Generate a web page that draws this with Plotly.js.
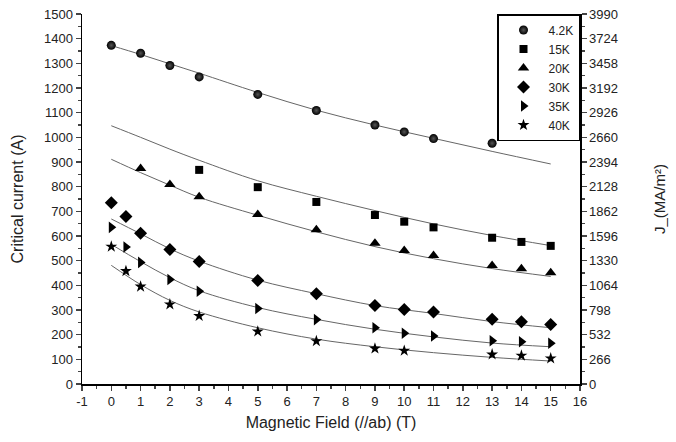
<!DOCTYPE html>
<html>
<head>
<meta charset="utf-8">
<script src="https://cdn.plot.ly/plotly-3.0.1.min.js"></script>
<style>html,body{margin:0;padding:0;background:#fff;}#chart{width:676px;height:442px;}</style>
</head>
<body>
<div id="chart"></div>
<script>
// Measured data (Critical current, A)
const x42 = [0, 1, 2, 3, 5, 7, 9, 10, 11, 13];
const y42 = [1373, 1341, 1291, 1245, 1174, 1109, 1050, 1022, 995, 976];
const x15 = [3, 5, 7, 9, 10, 11, 13, 14, 15];
const y15 = [868, 798, 738, 685, 658, 635, 593, 576, 560];
const x20 = [1, 2, 3, 5, 7, 9, 10, 11, 13, 14, 15];
const y20 = [874, 809, 759, 687, 625, 571, 541, 521, 480, 467, 451];
const x30 = [0, 0.5, 1, 2, 3, 5, 7, 9, 10, 11, 13, 14, 15];
const y30 = [735, 679, 611, 545, 497, 420, 366, 318, 302, 292, 262, 252, 241];
const x35 = [0, 0.5, 1, 2, 3, 5, 7, 9, 10, 11, 13, 14, 15];
const y35 = [635, 555, 493, 424, 376, 306, 261, 228, 206, 195, 175, 171, 165];
const x40 = [0, 0.5, 1, 2, 3, 5, 7, 9, 10, 13, 14, 15];
const y40 = [557, 458, 395, 323, 276, 213, 174, 144, 135, 120, 115, 104];

// Fit curves
const fitX = [0, 1, 2, 3, 5, 7, 9, 11, 13, 15];
const fit42 = [1372, 1336, 1298, 1260, 1182, 1110, 1050, 996, 943, 892];
const fit15 = [1047, 1000, 952, 907, 824, 761, 703, 649, 602, 561];
const fit20 = [911, 857, 806, 757, 684, 617, 557, 508, 468, 436];
const fit30 = [669, 609, 548, 498, 421, 366, 318, 286, 253, 228];
const fit35 = [566, 496, 431, 378, 310, 262, 222, 191, 166, 151];
const fit40 = [481, 403, 339, 292, 228, 182, 151, 127, 108, 93];

const names = ['4.2K', '15K', '20K', '30K', '35K', '40K'];
const xTicks = [-1, 0, 1, 2, 3, 4, 5, 6, 7, 8, 9, 10, 11, 12, 13, 14, 15, 16];
const xTickText = ['-1', '0', '1', '2', '3', '4', '5', '6', '7', '8', '9', '10', '11', '12', '13', '14', '15', '16'];
const rightTicks = [0, 266, 532, 798, 1064, 1330, 1596, 1862, 2128, 2394, 2660, 2926, 3192, 3458, 3724, 3990];

const FONT = 'Liberation Sans, Arial, sans-serif';
const pts = [[x42, y42], [x15, y15], [x20, y20], [x30, y30], [x35, y35], [x40, y40]];
const fits = [fit42, fit15, fit20, fit30, fit35, fit40];
const markers = [
  {symbol: 'circle', size: 9, color: '#000', gradient: {type: 'radial', color: '#555'}, line: {width: 0}},
  {symbol: 'square', size: 8, color: '#000'},
  {symbol: 'triangle-up', size: 10, color: '#000'},
  {symbol: 'diamond', size: 10, color: '#000'},
  {symbol: 'triangle-right', size: 10, color: '#000'},
  {symbol: 'star', size: 9, color: '#000'}
];

const traces = [];
fits.forEach(f => {
  traces.push({x: fitX, y: f, mode: 'lines', line: {color: '#666', width: 1, shape: 'spline'},
    showlegend: false, hoverinfo: 'skip'});
});
pts.forEach((p, i) => {
  traces.push({x: p[0], y: p[1], mode: 'markers', name: names[i], marker: markers[i]});
});
traces.push({x: [-1], y: [0], yaxis: 'y2', mode: 'markers', marker: {opacity: 0}, showlegend: false, hoverinfo: 'skip'});

const tickFont = {family: FONT, size: 13, color: '#222'};
const titleFont = {family: FONT, size: 16, color: '#222'};
const layout = {
  width: 676, height: 442,
  margin: {l: 82, r: 96, t: 14, b: 58},
  paper_bgcolor: '#fff', plot_bgcolor: '#fff',
  font: {family: FONT, size: 13, color: '#222'},
  showlegend: true,
  legend: {x: 1, xanchor: 'right', y: 1, yanchor: 'top', bordercolor: '#000', borderwidth: 1.5,
    bgcolor: '#fff', font: {family: FONT, size: 12, color: '#222'}, tracegroupgap: 0, itemwidth: 40},
  xaxis: {range: [-1, 16], tickmode: 'array', tickvals: xTicks, ticktext: xTickText,
    ticks: 'outside', ticklen: 5, tickwidth: 1.5,
    showline: true, linecolor: '#000', linewidth: 1.5, showgrid: false, zeroline: false,
    tickfont: tickFont,
    minor: {ticks: 'outside', ticklen: 3, dtick: 0.5, tick0: -1, tickwidth: 1.5, showgrid: false},
    title: {text: 'Magnetic Field (//ab) (T)', font: titleFont, standoff: 8}},
  yaxis: {range: [0, 1500], tick0: 0, dtick: 100, ticks: 'outside', ticklen: 5, tickwidth: 1.5,
    showline: true, linecolor: '#000', linewidth: 1.5, showgrid: false, zeroline: false,
    tickfont: tickFont,
    minor: {ticks: 'outside', ticklen: 3, dtick: 50, tickwidth: 1.5, showgrid: false},
    title: {text: 'Critical current (A)', font: titleFont, standoff: 16}},
  yaxis2: {overlaying: 'y', side: 'right', range: [0, 3990], tickmode: 'array', tickvals: rightTicks,
    ticktext: rightTicks.map(String), ticks: 'outside', ticklen: 5, tickwidth: 1.5,
    showline: true, linecolor: '#000', linewidth: 1.5, showgrid: false, zeroline: false,
    tickfont: tickFont,
    minor: {ticks: 'outside', ticklen: 3, dtick: 133, tick0: 0, tickwidth: 1.5, showgrid: false},
    title: {text: 'J_(MA/m²)', font: {family: FONT, size: 15, color: '#222'}, standoff: 37}}
};

Plotly.newPlot('chart', traces, layout, {staticPlot: true, displayModeBar: false});
</script>
</body>
</html>
